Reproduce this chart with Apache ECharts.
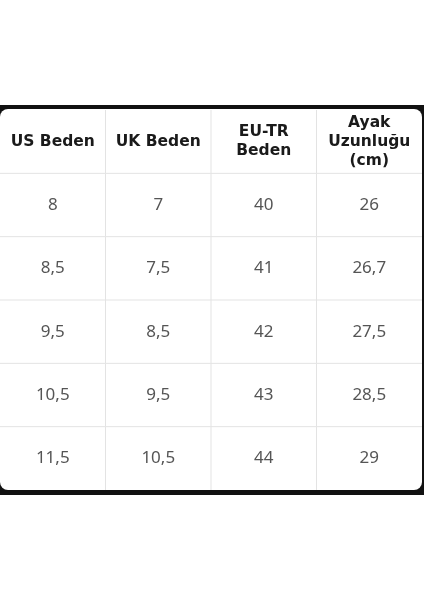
<!DOCTYPE html>
<html>
<head>
<meta charset="utf-8">
<script src="https://cdn.jsdelivr.net/npm/echarts@6/dist/echarts.min.js"></script>
<style>html,body{margin:0;padding:0;background:#fff}#chart{width:424px;height:600px}</style>
</head>
<body>
<div id="chart"></div>
<script>
// tablo verileri
const headers = ['US Beden', 'UK Beden', 'EU-TR\nBeden', 'Ayak\nUzunluğu\n(cm)'];
const usSizes = ['8', '8,5', '9,5', '10,5', '11,5'];
const ukSizes = ['7', '7,5', '8,5', '9,5', '10,5'];
const euSizes = ['40', '41', '42', '43', '44'];
const footLen = ['26', '26,7', '27,5', '28,5', '29'];

document.addEventListener('DOMContentLoaded', function () {
    const myChart = echarts.init(document.getElementById('chart'));

    const columns = [usSizes, ukSizes, euSizes, footLen];
    const rows = ['h'].concat(usSizes.map((_, i) => 'r' + i));
    const cells = [];
    headers.forEach((h, c) => cells.push([c, 0, h, 1]));
    columns.forEach((col, c) => col.forEach((v, r) => cells.push([c, r + 1, v, 0])));

    function renderCell(params, api) {
        const p = api.coord([api.value(0), api.value(1)]);
        const s = api.size([1, 1]);
        const header = api.value(3) === 1;
        const x = p[0] - s[0] / 2, y = p[1] - s[1] / 2;
        const line = { stroke: '#e3e3e3', lineWidth: 1 };
        const children = [];
        if (api.value(0) > 0) children.push({ type: 'line', shape: { x1: x, y1: y, x2: x, y2: y + s[1] }, style: line });
        if (api.value(1) > 0) children.push({ type: 'line', shape: { x1: x, y1: y, x2: x + s[0], y2: y }, style: line });
        children.push({
            type: 'text',
            style: {
                text: api.value(2), x: p[0], y: p[1], align: 'center', verticalAlign: 'middle',
                fill: header ? '#1a1a1a' : '#555',
                font: header ? 'bold 15.5px "DejaVu Sans"' : '17px "Noto Sans"',
                lineHeight: 19
            }
        });
        return { type: 'group', children };
    }

    const option = {
        backgroundColor: '#fff',
        graphic: [
            { type: 'rect', left: 0, top: 105, shape: { width: 424, height: 390 }, style: { fill: '#111' }, z: -10 },
            { type: 'rect', left: 0, top: 109, shape: { width: 422, height: 381, r: 8 }, style: { fill: '#fff' }, z: -9 }
        ],
        grid: { left: 0, right: 2, top: 110, bottom: 110 },
        xAxis: { type: 'category', data: headers, show: false },
        yAxis: { type: 'category', data: rows, inverse: true, show: false },
        series: [{
            type: 'custom',
            renderItem: renderCell,
            data: cells,
            encode: { x: 0, y: 1 },
            z: 10,
            silent: true
        }]
    };
    myChart.setOption(option);
});
</script>
</body>
</html>
